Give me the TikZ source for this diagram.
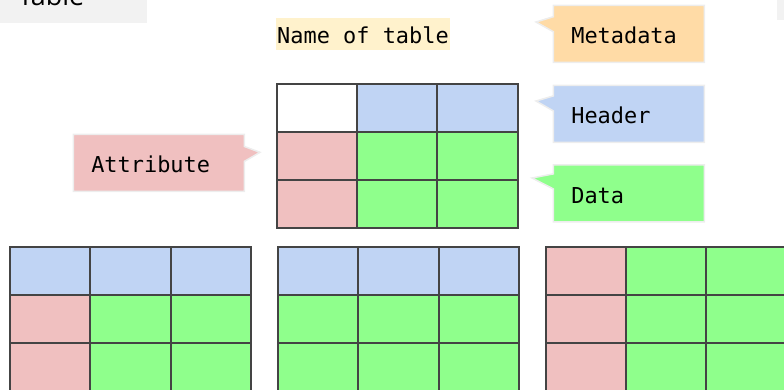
\documentclass[tikz,border=0pt]{standalone}
\usepackage{fontspec}
\setmonofont{DejaVu Sans Mono}
\newfontfamily\chipfont{Open Sans}
\usepackage{tikz}
\usetikzlibrary{shapes.callouts, positioning, calc}
\definecolor{headblue}{HTML}{C0D4F4}
\definecolor{attrpink}{HTML}{F0C0C0}
\definecolor{datagreen}{HTML}{8FFF8C}
\definecolor{metaorange}{HTML}{FFDBA6}
\definecolor{namecream}{HTML}{FFF2CC}
\definecolor{chipgray}{HTML}{F2F2F2}
\definecolor{gridline}{HTML}{444444}

\begin{document}
\begin{tikzpicture}[
      x=1bp, y=-1bp,
      cell/.style={
        draw=gridline,
        line width=2bp,
        minimum width=80.33bp,
        minimum height=48bp,
        inner sep=0pt,
        outer sep=0pt,
        anchor=north west,
      },
      callbox/.style={
        rectangle callout,
        draw=black!7,
        line width=1.5bp,
        minimum height=57bp,
        text width=115bp,
        text height=19.5bp,
        text depth=0pt,
        align=left,
        inner xsep=18bp,
        inner ysep=0pt,
        callout pointer width=15bp,
        font=\ttfamily\fontsize{22}{26}\selectfont,
      },
      ]
      \clip (0,0) rectangle (784,389);
      % cut-off chips at the top
      \node[fill=chipgray, anchor=base west, inner sep=0pt, inner xsep=18bp,
        text width=111bp, text height=30bp, text depth=18bp,
        font=\chipfont\fontsize{27}{30}\selectfont] (tablechip) at (0,5) {Table};
      \node[fill=chipgray, anchor=north west, inner sep=0pt,
        minimum width=10bp, minimum height=20bp] (sidechip) at (777,0) {};
      % name of the table
      \node[fill=namecream, minimum width=174bp, minimum height=32.5bp, inner sep=0pt,
        text height=19.5bp, text depth=0pt,
        font=\ttfamily\fontsize{22}{26}\selectfont] (tname) at (363,34) {Name of table};
      % example table
      \foreach \r/\ca/\cb/\cc in {0/white/headblue/headblue,
                                  1/attrpink/datagreen/datagreen,
                                  2/attrpink/datagreen/datagreen}{
        \node[cell, fill=\ca] (top-\r-0) at (276.7, 84.3+48*\r) {};
        \node[cell, fill=\cb] (top-\r-1) at (357.0, 84.3+48*\r) {};
        \node[cell, fill=\cc] (top-\r-2) at (437.3, 84.3+48*\r) {};
      }
      % kinds of tables
      \foreach \t/\x/\ca/\cb/\cc/\cd/\ce/\cf in {
          left/10/headblue/headblue/attrpink/datagreen/attrpink/datagreen,
          mid/278/headblue/headblue/datagreen/datagreen/datagreen/datagreen,
          right/545.5/attrpink/datagreen/attrpink/datagreen/attrpink/datagreen}{
        \node[cell, fill=\ca] (\t-0-0) at (\x, 247.3) {};
        \node[cell, fill=\cb] (\t-0-1) at (\x+80.33, 247.3) {};
        \node[cell, fill=\cb] (\t-0-2) at (\x+160.67, 247.3) {};
        \foreach \r in {1,2}{
          \node[cell, fill=\cc] (\t-\r-0) at (\x, 247.3+48*\r) {};
          \node[cell, fill=\cd] (\t-\r-1) at (\x+80.33, 247.3+48*\r) {};
          \node[cell, fill=\cd] (\t-\r-2) at (\x+160.67, 247.3+48*\r) {};
        }
      }
      % labels
      \coordinate (meta-tip) at (536,22);
      \coordinate (head-tip) at (536,101);
      \coordinate (data-tip) at (532,178);
      \coordinate (attr-tip) at (260,152.3);
      \node[callbox, fill=metaorange, callout absolute pointer={(meta-tip)}] (meta) at (628.8,33.8) {Metadata};
      \node[callbox, fill=headblue, callout absolute pointer={(head-tip)}] (head) at (628.8,113.8) {Header};
      \node[callbox, fill=datagreen, callout absolute pointer={(data-tip)}] (data) at (628.8,193.3) {Data};
      \node[callbox, fill=attrpink, text width=135bp, callout absolute pointer={(attr-tip)}] (attr) at (158.8,162.8) {Attribute};
    \end{tikzpicture}
\end{document}
